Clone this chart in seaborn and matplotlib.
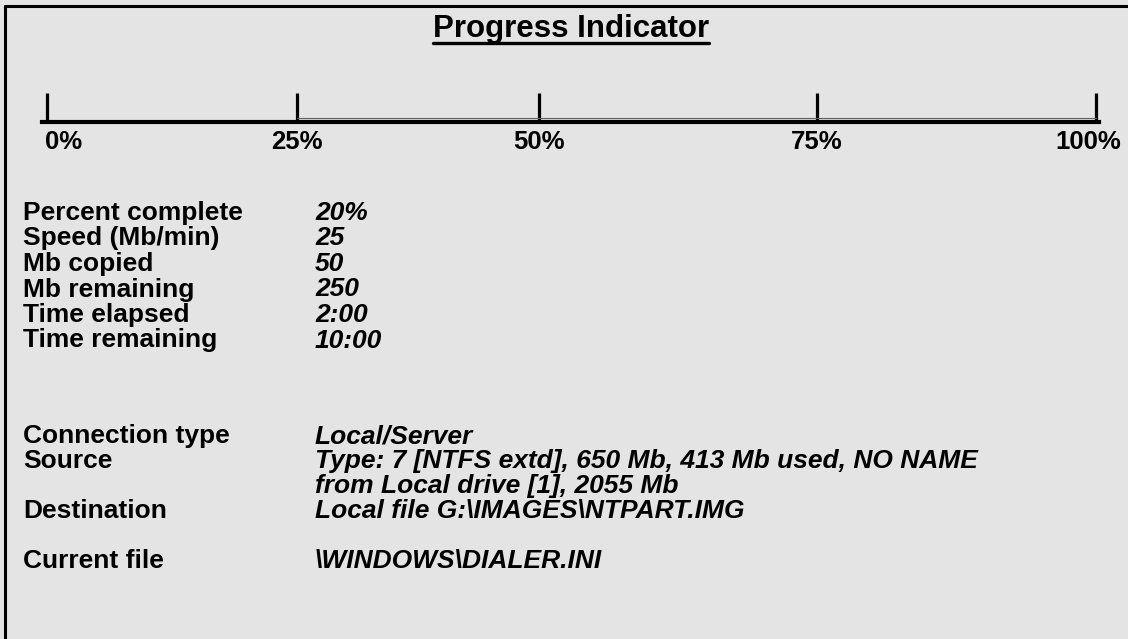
import matplotlib
matplotlib.use('Agg')
import matplotlib.pyplot as plt
import matplotlib.transforms as mtransforms
from matplotlib.lines import Line2D
import seaborn as sns

sns.set_style('white')
plt.rcParams['font.family'] = ['Liberation Sans', 'DejaVu Sans']
plt.rcParams['text.color'] = 'black'
plt.rcParams['xtick.color'] = 'black'

# data
tick_pos = [0, 23.8, 46.9, 73.4, 100]
tick_labels = ['0%', '25%', '50%', '75%', '100%']

stat_names = ['Percent complete', 'Speed (Mb/min)', 'Mb copied', 'Mb remaining',
              'Time elapsed', 'Time remaining']
stat_values = ['20%', '25', '50', '250', '2:00', '10:00']

conn_names = ['Connection type', 'Source', '', 'Destination', '', 'Current file']
conn_values = ['Local/Server',
               'Type: 7 [NTFS extd], 650 Mb, 413 Mb used, NO NAME',
               'from Local drive [1], 2055 Mb',
               'Local file G:\\IMAGES\\NTPART.IMG',
               '',
               '\\WINDOWS\\DIALER.INI']

W, H = 1128, 639
bg = '#e4e4e4'
fig = plt.figure(figsize=(W / 100, H / 100), dpi=100, facecolor=bg)

def px(x, y):
    return x / W, 1 - y / H

# frame (top and left only)
fig.add_artist(Line2D([5 / W, 1], [1 - 6 / H] * 2, color='black', lw=2.2))
fig.add_artist(Line2D([5 / W] * 2, [0, 1 - 6 / H], color='black', lw=2.2))

# title, underlined
title = fig.text(*px(571, 37), 'Progress Indicator', ha='center', va='baseline',
                 fontsize=22.5, fontweight='bold')
fig.canvas.draw()
bb = title.get_window_extent()
fig.add_artist(Line2D([bb.x0 / W, bb.x1 / W], [1 - 43 / H] * 2, color='black', lw=2.4))

# progress scale
left, right = 42, 1099
ax = fig.add_axes([left / W, 1 - 122 / H, (right - left) / W, 29 / H])
ax.set_facecolor(bg)
ax.set_xlim(-5 * 100 / 1049, 100 + 3 * 100 / 1049)
ax.set_ylim(0, 1)
sns.rugplot(x=tick_pos, height=1.0, linewidth=2.3, color='black', ax=ax, expand_margins=False)
ax.plot([tick_pos[1], 100], [0.13, 0.13], color='#606060', lw=0.8)
for s in ['top', 'left', 'right']:
    ax.spines[s].set_visible(False)
ax.spines['bottom'].set_linewidth(3)
ax.spines['bottom'].set_color('black')
ax.set_yticks([])
ax.set_xticks(tick_pos)
ax.set_xticklabels(tick_labels, fontsize=18.5, fontweight='bold')
ax.tick_params(axis='x', length=0, pad=6)
labs = ax.get_xticklabels()
labs[0].set_horizontalalignment('left')
labs[0].set_transform(labs[0].get_transform() + mtransforms.ScaledTranslation(-2 / 100, 0, fig.dpi_scale_trans))
labs[-1].set_transform(labs[-1].get_transform() + mtransforms.ScaledTranslation(-8 / 100, 0, fig.dpi_scale_trans))

# text table
name_x, val_x = 23, 315
fs = 19

def rows(names, values, y0, step):
    for i, (n, v) in enumerate(zip(names, values)):
        y = y0 + i * step
        if n:
            fig.text(*px(name_x, y), n, ha='left', va='center', fontsize=fs, fontweight='bold')
        if v:
            fig.text(*px(val_x, y), v, ha='left', va='center', fontsize=fs,
                     fontweight='bold', style='italic')

rows(stat_names, stat_values, 213, 25.5)
rows(conn_names, conn_values, 436, 25)

fig.savefig('out.png', dpi=100, facecolor=bg)
